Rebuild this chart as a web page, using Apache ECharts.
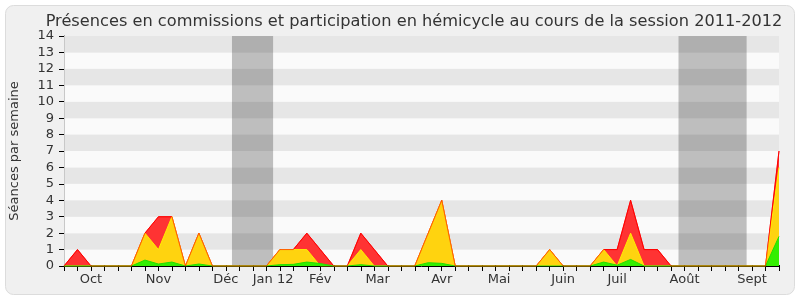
<!DOCTYPE html>
<html><head><meta charset="utf-8">
<script src="https://cdn.jsdelivr.net/npm/echarts@6/dist/echarts.min.js"></script>
<style>html,body{margin:0;padding:0;background:#fff}#c{width:800px;height:300px}</style>
</head><body><div id="c"></div>
<script>
// weekly index 0..53
const weeks = Array.from({length: 54}, (_, i) => i);
const totalVals = [0,1,0,0,0,0,2,3,3,0,2,0,0,0,0,0,1,1,2,1,0,0,2,1,0,0,0,2,4,0,0,0,0,0,0,0,1,0,0,0,1,1,4,1,1,0,0,0,0,0,0,0,0,7];
const yellowVals = [0,0,0,0,0,0,2,1,3,0,2,0,0,0,0,0,1,1,1,0,0,0,1,0,0,0,0,2,4,0,0,0,0,0,0,0,1,0,0,0,1,0,2,0,0,0,0,0,0,0,0,0,0,6];
const greenVals = [0,0,0,0,0,0,0.36,0.12,0.24,0,0.12,0,0,0,0,0,0.08,0.1,0.24,0.15,0,0,0.08,0,0,0,0,0.2,0.16,0,0,0,0,0,0,0,0,0,0,0,0.24,0.05,0.4,0,0,0,0,0,0,0,0,0,0,1.8];
const monthNames = ['Oct','Nov','Déc','Jan 12','Fév','Mar','Avr','Mai','Juin','Juil','Août','Sept'];
const monthPos = [2,7,12,15.5,19,23.25,28,32.25,37,41,46,51];
const vacations = [[12.45,15.5],[45.55,50.6]];
const yTicks = [0,1,2,3,4,5,6,7,8,9,10,11,12,13,14];

const FONT = 'DejaVu Sans';
const pairs = arr => weeks.map(i => [i, arr[i]]);
const chart = echarts.init(document.getElementById('c'), null, {renderer: 'canvas'});
chart.setOption({
  animation: false,
  backgroundColor: '#ffffff',
  textStyle: {fontFamily: FONT},
  graphic: [{type: 'rect', z: -100, silent: true, shape: {x: 5.5, y: 5.5, width: 789, height: 289, r: 8},
    style: {fill: '#f0f0f0', stroke: '#dcdcdc', lineWidth: 1}}],
  title: {text: 'Présences en commissions et participation en hémicycle au cours de la session 2011-2012',
    left: 409, textAlign: 'center', top: 9,
    textStyle: {fontFamily: FONT, fontSize: 16.2, fontWeight: 'normal', color: '#333'}},
  grid: {left: 62, right: 21, top: 36, bottom: 34, containLabel: false},
  xAxis: [
    {type: 'value', min: 0, max: 53, interval: 1, position: 'bottom',
      axisLine: {show: true, onZero: false, lineStyle: {color: '#000', width: 1}},
      axisTick: {show: true, length: 5, lineStyle: {color: '#000'}},
      axisLabel: {show: false}, splitLine: {show: false}},
    {type: 'value', min: 0, max: 53, interval: 0.25, position: 'bottom',
      axisLine: {show: false}, axisTick: {show: false}, splitLine: {show: false},
      axisLabel: {show: true, margin: 7, fontFamily: FONT, fontSize: 13, color: '#333',
        formatter: v => { const k = monthPos.findIndex(p => Math.abs(p - v) < 0.01); return k >= 0 ? monthNames[k] : ''; }}},
    {type: 'value', min: 0, max: 53, interval: 1, position: 'top',
      axisLine: {show: false}, axisTick: {show: true, length: 1, lineStyle: {color: '#000'}},
      axisLabel: {show: false}, splitLine: {show: false}}
  ],
  yAxis: [
    {type: 'value', min: 0, max: 14, interval: 1, position: 'left',
      name: 'Séances par semaine', nameLocation: 'middle', nameRotate: 90, nameGap: 43,
      nameTextStyle: {fontFamily: FONT, fontSize: 13, color: '#333'},
      axisLine: {show: true, lineStyle: {color: '#000'}},
      axisTick: {show: true, length: 5, lineStyle: {color: '#000'}},
      axisLabel: {margin: 10, fontFamily: FONT, fontSize: 13, color: '#333',
        formatter: v => yTicks.includes(v) ? String(v) : ''},
      splitLine: {show: false},
      splitArea: {show: true, areaStyle: {color: ['#fafafa', '#e6e6e6']}}},
    {type: 'value', min: 0, max: 14, interval: 1, position: 'right',
      axisLine: {show: true, lineStyle: {color: '#c8c8c8'}},
      axisTick: {show: false}, axisLabel: {show: false}, splitLine: {show: false}}
  ],
  series: [
    {type: 'line', name: 'total', data: pairs(totalVals), symbol: 'none', z: 2,
      lineStyle: {color: '#ff0000', width: 1}, areaStyle: {color: '#ff3333', opacity: 1},
      markArea: {silent: true, itemStyle: {color: 'rgba(0,0,0,0.24)'},
        data: vacations.map(v => [{xAxis: v[0]}, {xAxis: v[1]}])}},
    {type: 'line', name: 'hemicycle', data: pairs(yellowVals), symbol: 'none', z: 3,
      lineStyle: {color: '#ffee00', width: 1}, areaStyle: {color: '#ffd30f', opacity: 1}},
    {type: 'line', name: 'commission', data: pairs(greenVals), symbol: 'none', z: 4,
      lineStyle: {color: '#22dd00', width: 1}, areaStyle: {color: '#33ee00', opacity: 1}},
    {type: 'line', name: 'outline', data: pairs(totalVals), symbol: 'none', z: 5,
      lineStyle: {color: 'rgba(255,0,0,0.6)', width: 1}}
  ]
});
</script></body></html>
